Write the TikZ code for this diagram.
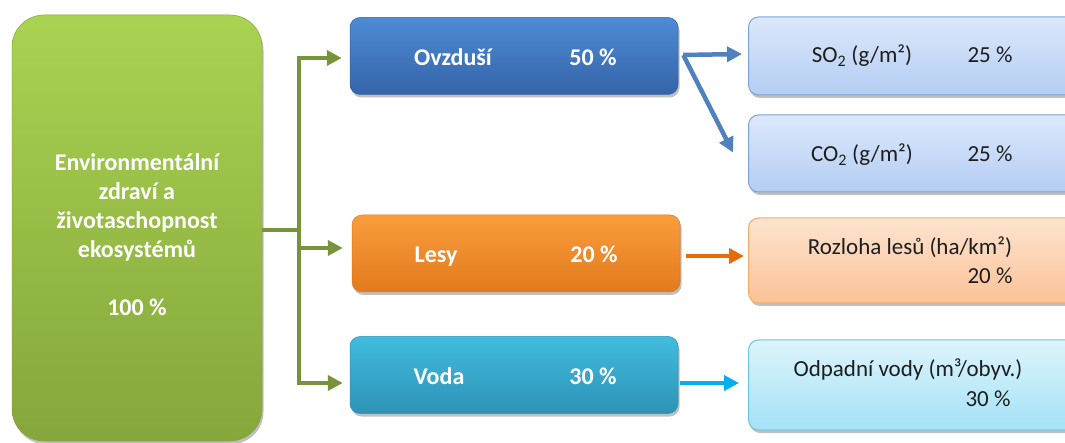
\documentclass[tikz,border=0pt]{standalone}
\usepackage{fontspec}
\setmainfont{Carlito}
\usetikzlibrary{shadows,arrows.meta}
\definecolor{gTop}{HTML}{A9D351}
\definecolor{gBot}{HTML}{85A63C}
\definecolor{bTop}{HTML}{4E8BD6}
\definecolor{bBot}{HTML}{3464A8}
\definecolor{oTop}{HTML}{F99D3C}
\definecolor{oBot}{HTML}{E27A1E}
\definecolor{cTop}{HTML}{40BCDF}
\definecolor{cBot}{HTML}{2D93B6}
\definecolor{lbTop}{HTML}{DCE8FB}
\definecolor{lbBot}{HTML}{B3CDF3}
\definecolor{lbLine}{HTML}{7EA2D6}
\definecolor{loTop}{HTML}{FDE4D0}
\definecolor{loBot}{HTML}{FBC296}
\definecolor{loLine}{HTML}{F5A96A}
\definecolor{lcTop}{HTML}{DDF4FC}
\definecolor{lcBot}{HTML}{A3E2F6}
\definecolor{lcLine}{HTML}{6EC3DC}
\definecolor{aG}{HTML}{77933C}
\definecolor{aB}{HTML}{4F81BD}
\definecolor{aO}{HTML}{E46C0A}
\definecolor{aC}{HTML}{00B0F0}
\definecolor{txt}{HTML}{1E1E1E}
\tikzset{
  shad/.style={drop shadow={shadow xshift=1.5pt,shadow yshift=-3pt,opacity=0.35,fill=black!70}},
  midbox/.style={rectangle,rounded corners=10pt,minimum width=328pt,minimum height=77pt,shad,draw=#1,line width=0.5pt},
  rbox/.style={rectangle,rounded corners=10pt,minimum width=340pt,minimum height=#1,shad},
  wtext/.style={text=white,font=\bfseries\fontsize{24}{29}\selectfont,inner sep=0pt},
  btext/.style={text=txt,font=\fontsize{23}{29}\selectfont,inner sep=0pt,anchor=base},
  arr/.style={line width=4.5pt,-{Triangle[length=15pt,width=15pt]}},
}
\begin{document}
\begin{tikzpicture}[x=1pt,y=-1pt]
\useasboundingbox (0,0) rectangle (1065,443);
\fill[white] (0,0) rectangle (1065,443);
% main green box
\node[rectangle,rounded corners=32pt,minimum width=250pt,minimum height=426pt,top color=gTop,bottom color=gBot,draw=gBot,line width=0.5pt,shad] (g) at (137,228) {};
\node[wtext,align=center] (gt) at (137,235) {Environmentální\\zdraví a\\životaschopnost\\ekosystémů\\[29pt]100 \%};
% middle boxes
\node[midbox=bBot,top color=bTop,bottom color=bBot] (ovz) at (514,56) {};
\node[midbox=oBot,top color=oTop,bottom color=oBot] (les) at (516,253.5) {};
\node[midbox=cBot,top color=cTop,bottom color=cBot] (vod) at (514,375) {};
\node[wtext,anchor=base] (ovzt) at (453,66) {Ovzduší};
\node[wtext,anchor=base] (ovzp) at (593,66) {50 \%};
\node[wtext,anchor=base] (lest) at (436,263) {Lesy};
\node[wtext,anchor=base] (lesp) at (594,263) {20 \%};
\node[wtext,anchor=base] (vodt) at (439,384) {Voda};
\node[wtext,anchor=base] (vodp) at (593,384) {30 \%};
% right boxes
\node[rbox=78pt,anchor=west,top color=lbTop,bottom color=lbBot,draw=lbLine,line width=1pt] (so) at (748,56) {};
\node[rbox=77pt,anchor=west,top color=lbTop,bottom color=lbBot,draw=lbLine,line width=1pt] (co) at (748,153.5) {};
\node[rbox=85pt,anchor=west,top color=loTop,bottom color=loBot,draw=loLine,line width=1pt] (roz) at (748,260.5) {};
\node[rbox=90pt,anchor=west,top color=lcTop,bottom color=lcBot,draw=lcLine,line width=1pt] (odp) at (748,385) {};
\node[btext] (sot) at (862,63) {SO\textsubscript{2} (g/m²)};
\node[btext] (sop) at (990,63) {25 \%};
\node[btext] (cot) at (862,162) {CO\textsubscript{2} (g/m²)};
\node[btext] (cop) at (990,162) {25 \%};
\node[btext] (rozt) at (910,255) {Rozloha lesů (ha/km²)};
\node[btext] (rozp) at (990,284) {20 \%};
\node[btext] (odpt) at (908,377) {Odpadní vody (m³/obyv.)};
\node[btext] (odpp) at (988,406) {30 \%};
% green connectors
\coordinate (j) at (299,230);
\coordinate (ja) at ([yshift=-2pt]j |- ovz.west);
\coordinate (jb) at ([yshift=5.5pt]j |- les.west);
\coordinate (jc) at ([yshift=-8pt]j |- vod.west);
\draw[aG,line width=4.5pt] (g.east |- j) -- (j);
\draw[aG,line width=4.5pt] ([yshift=2.25pt]ja) -- ([yshift=-2.25pt]jc);
\draw[aG,arr] (ja) -- ([xshift=-8pt,yshift=-2pt]ovz.west);
\draw[aG,arr] (jb) -- ([xshift=-9pt,yshift=5.5pt]les.west);
\draw[aG,arr] (jc) -- ([xshift=-7pt,yshift=-8pt]vod.west);
% blue arrows
\coordinate (b0) at ([xshift=5pt,yshift=1pt]ovz.east);
\draw[aB,arr] (b0) -- ([xshift=-6pt,yshift=2pt]so.west);
\draw[aB,arr] (b0) -- ([xshift=-15pt,yshift=1pt]co.west);
% orange and cyan
\draw[aO,arr] ([xshift=6pt,yshift=-2.5pt]les.east) -- ([xshift=-4pt,yshift=4.5pt]roz.west);
\draw[aC,arr] ([xshift=2pt,yshift=-8pt]vod.east) -- ([xshift=-9pt,yshift=2pt]odp.west);
\end{tikzpicture}
\end{document}
